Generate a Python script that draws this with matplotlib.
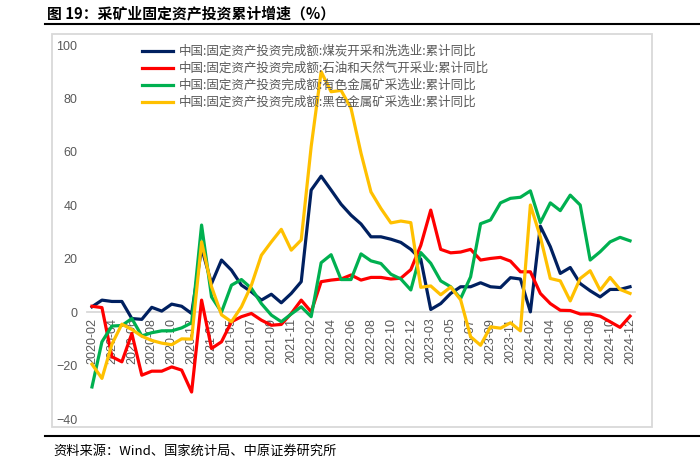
import numpy as np
import matplotlib.pyplot as plt
from matplotlib.lines import Line2D
from matplotlib.patches import Rectangle

plt.rcParams['font.family'] = ['Noto Sans CJK SC', 'DejaVu Sans']

# monthly, Jan is merged into Feb so every year starts at -02
months = [f"{y}-{m:02d}" for y in range(2020, 2025) for m in range(2, 13)]

coal = [2.0, 4.5, 4.0, 4.0, -2.4, -2.7, 1.8, 0.4, 3.0, 2.2, -0.5,
        24.0, 10.7, 19.5, 15.7, 10.1, 7.6, 4.5, 6.7, 3.5, 7.0, 11.4,
        45.7, 50.9, 45.7, 40.4, 36.3, 33.0, 28.2, 28.2, 27.3, 26.1, 23.5,
        19.8, 1.0, 3.2, 7.0, 9.5, 9.5, 11.0, 9.5, 9.2, 12.9, 12.4,
        0.1, 32.2, 24.5, 14.5, 16.7, 10.7, 8.0, 5.7, 8.5, 8.5, 9.5]
oil = [2.2, 1.7, -16.7, -18.6, -8.0, -23.6, -22.1, -22.1, -20.5, -21.7, -29.9,
       4.5, -13.6, -11.1, -3.6, -1.7, -0.5, -3.0, -4.9, -4.6, -0.5, 4.5,
       0.1, 11.4, 12.0, 12.4, 13.9, 12.0, 13.0, 13.0, 12.4, 12.7, 15.9,
       25.0, 38.2, 23.5, 22.2, 22.5, 23.5, 19.5, 20.1, 20.5, 19.1, 15.1,
       15.1, 7.0, 3.2, 0.7, 0.6, -0.7, -0.7, -1.5, -3.6, -5.7, -1.5]
nonferrous = [-28.0, -11.1, -5.2, -5.0, -2.4, -8.9, -7.7, -7.0, -7.0, -5.9, -4.0,
              32.6, 5.7, 0.0, 10.1, 12.2, 8.9, 3.2, -1.1, -3.6, -0.7, 2.0,
              -1.7, 18.5, 21.5, 12.2, 12.2, 21.8, 19.2, 18.2, 14.2, 12.4, 8.3,
              22.3, 18.3, 11.7, 9.5, 5.1, 13.2, 33.1, 34.5, 40.9, 42.6, 43.0,
              45.4, 33.5, 40.9, 38.0, 43.8, 40.1, 19.5, 22.6, 26.3, 28.0, 26.7]
ferrous = [-19.5, -24.8, -12.0, -4.5, -6.5, -9.0, -10.6, -11.6, -12.2, -10.0, -10.1,
           26.3, 9.5, -1.0, -3.6, 2.0, 10.1, 21.3, 26.3, 31.0, 23.2, 27.0,
           62.0, 90.0, 82.5, 83.0, 76.3, 59.5, 45.0, 38.8, 33.4, 34.1, 33.5,
           9.3, 9.8, 6.5, 9.4, 4.6, -9.2, -12.4, -5.5, -6.0, -4.0, -7.0,
           40.1, 28.2, 12.6, 11.7, 4.2, 12.6, 15.5, 8.2, 13.0, 8.5, 7.0]

names = ["中国:固定资产投资完成额:煤炭开采和洗选业:累计同比",
         "中国:固定资产投资完成额:石油和天然气开采业:累计同比",
         "中国:固定资产投资完成额:有色金属矿采选业:累计同比",
         "中国:固定资产投资完成额:黑色金属矿采选业:累计同比"]
colors = ["#002060", "#FF0000", "#00B050", "#FFC000"]

W, H = 700, 463
fig = plt.figure(figsize=(W / 100, H / 100), dpi=100)

# title + rules + frame, all in figure pixels
fig.text(47 / W, 1 - 13 / H, "图 19：采矿业固定资产投资累计增速（%）",
         fontsize=10.7, fontweight='bold', va='center', ha='left')
fig.add_artist(Line2D([45 / W, 1], [1 - 24 / H] * 2, color='black', lw=1.5))
fig.add_artist(Line2D([45 / W, 1], [1 - 436 / H] * 2, color='black', lw=1.5))
fig.add_artist(Rectangle((52 / W, 1 - 427 / H), 600 / W, 393.5 / H,
                         fill=False, edgecolor='#d9d9d9', lw=1.3))
fig.text(53 / W, 1 - 451 / H, "资料来源：Wind、国家统计局、中原证券研究所",
         fontsize=9.5, va='center', ha='left')

ax = fig.add_axes([87 / W, 1 - 419 / H, 548 / W, 374 / H])
for s in ['top', 'right', 'left']:
    ax.spines[s].set_visible(False)
ax.spines['bottom'].set_position(('data', 0))
ax.spines['bottom'].set_color('#d9d9d9')
ax.spines['bottom'].set_linewidth(1.3)

x = np.arange(len(months))
for vals, name, c in zip([coal, oil, nonferrous, ferrous], names, colors):
    ax.plot(x, vals, color=c, lw=2.3, label=name, zorder=3)

ax.set_xlim(-0.5, len(months) - 0.5)
ax.set_ylim(-40, 100)
ax.set_yticks(range(-40, 101, 20))
ax.set_xticks(x[::2])
ax.set_xticklabels(months[::2])
ax.tick_params(axis='x', length=0, pad=4, labelsize=9, labelcolor='#595959',
               labelrotation=90)
ax.tick_params(axis='y', length=0, pad=7, labelsize=9, labelcolor='#595959')
for lab in ax.get_xticklabels() + ax.get_yticklabels():
    lab.set_fontfamily('Liberation Sans')

leg = ax.legend(loc='upper left', bbox_to_anchor=(142 / W, 1 - 45 / H),
                bbox_transform=fig.transFigure, frameon=False, fontsize=9,
                handlelength=2.5, handletextpad=0.45, labelspacing=0.32,
                borderpad=0, borderaxespad=0)
for t in leg.get_texts():
    t.set_color('#595959')

fig.savefig("out.png", dpi=100)
